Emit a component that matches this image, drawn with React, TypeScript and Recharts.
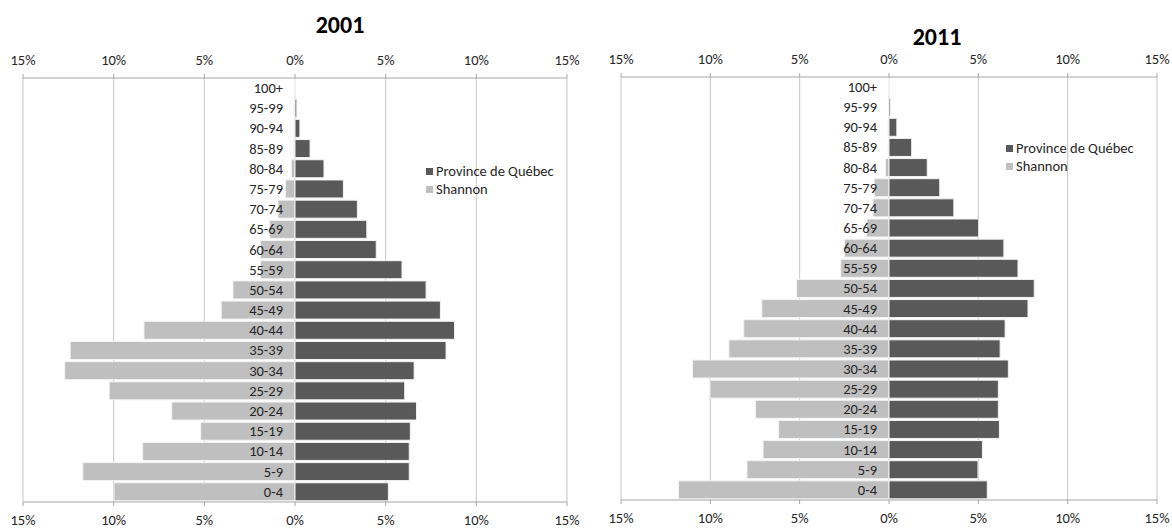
import React from 'react';
import { BarChart, Bar, XAxis, YAxis, CartesianGrid, LabelList } from 'recharts';

const ageGroups = ['100+', '95-99', '90-94', '85-89', '80-84', '75-79', '70-74', '65-69', '60-64', '55-59', '50-54', '45-49', '40-44', '35-39', '30-34', '25-29', '20-24', '15-19', '10-14', '5-9', '0-4'];

const quebec2001 = [0.02, 0.1, 0.27, 0.83, 1.6, 2.67, 3.44, 3.96, 4.48, 5.9, 7.23, 8.02, 8.8, 8.33, 6.57, 6.05, 6.7, 6.36, 6.3, 6.3, 5.15];
const shannon2001 = [0.03, 0.05, 0.05, 0.05, 0.2, 0.52, 0.94, 1.4, 1.9, 1.9, 3.42, 4.07, 8.33, 12.4, 12.7, 10.25, 6.8, 5.2, 8.4, 11.7, 9.98];

const quebec2011 = [0.02, 0.08, 0.44, 1.27, 2.14, 2.84, 3.63, 5.02, 6.43, 7.22, 8.13, 7.78, 6.5, 6.22, 6.68, 6.12, 6.12, 6.18, 5.23, 4.98, 5.5];
const shannon2011 = [0.03, 0.03, 0.05, 0.05, 0.2, 0.83, 0.9, 1.25, 2.49, 2.7, 5.17, 7.12, 8.13, 8.96, 11.0, 10.02, 7.47, 6.18, 7.05, 7.95, 11.78];

const xTicks = [-15, -10, -5, 0, 5, 10, 15];
const seriesNames = ['Province de Québec', 'Shannon'];

const FONT = "Carlito, Calibri, Lato, 'Open Sans', sans-serif";
const DARK = '#595959';
const LIGHT = '#bfbfbf';
const TEXT = '#262626';

const fmt = (v: number) => `${Math.abs(v)}%`;

const renderAgeLabel = (props: any) => {
  const { x, y, width, height, value } = props;
  const xn = Number(x);
  const wn = Number(width);
  const zero = Math.max(xn, xn + wn);
  return (
    <text
      x={zero - 12}
      y={Number(y) + Number(height) / 2}
      textAnchor="end"
      dominantBaseline="central"
      fontSize={14.5}
      fontFamily={FONT}
      fill={TEXT}
    >
      {value}
    </text>
  );
};

const LegendBox = ({ left, top }: { left: number; top: number }) => (
  <div style={{ position: 'absolute', left, top, fontFamily: FONT, fontSize: 14.5, color: TEXT, lineHeight: '17.5px' }}>
    {seriesNames.map((name, i) => (
      <div key={name} style={{ display: 'flex', alignItems: 'center', whiteSpace: 'nowrap' }}>
        <span style={{ display: 'inline-block', width: 7, height: 7, background: i === 0 ? DARK : LIGHT, marginRight: 3 }} />
        {name}
      </div>
    ))}
  </div>
);

type PyramidProps = {
  title: string;
  quebec: number[];
  shannon: number[];
  left: number;
  width: number;
  margin: { top: number; right: number; bottom: number; left: number };
  legendPos: { left: number; top: number };
  titlePos: { x: number; y: number };
};

const Pyramid = ({ title, quebec, shannon, left, width, margin, legendPos, titlePos }: PyramidProps) => {
  const data = ageGroups.map((age, i) => ({ age, quebec: quebec[i], shannon: -shannon[i] }));
  const axisProps = {
    type: 'number' as const,
    domain: [-15, 15],
    ticks: xTicks,
    tickFormatter: fmt,
    tickSize: 4,
    tickMargin: 9,
    stroke: '#a6a6a6',
    allowDataOverflow: true,
    interval: 0 as const,
    tick: { fill: TEXT, fontSize: 14.5, fontFamily: FONT },
  };
  return (
    <div style={{ position: 'absolute', left, top: 0, width, height: 529 }}>
      <BarChart
        width={width}
        height={529}
        data={data}
        layout="vertical"
        stackOffset="sign"
        margin={margin}
        barCategoryGap={1}
      >
        <CartesianGrid horizontal={false} vertical stroke="#c4c4c4" xAxisId="bottom" />
        <XAxis xAxisId="top" orientation="top" height={30} {...axisProps} />
        <XAxis xAxisId="bottom" orientation="bottom" height={20} {...axisProps} />
        <YAxis type="category" dataKey="age" hide />
        <Bar dataKey="shannon" name={seriesNames[1]} stackId="a" xAxisId="bottom" fill={LIGHT} stroke="#f4f4f4" strokeWidth={1} isAnimationActive={false}>
          <LabelList dataKey="age" content={renderAgeLabel} />
        </Bar>
        <Bar dataKey="quebec" name={seriesNames[0]} stackId="a" xAxisId="bottom" fill={DARK} stroke="#f4f4f4" strokeWidth={1} isAnimationActive={false} />
      </BarChart>
      <LegendBox left={legendPos.left} top={legendPos.top} />
      <div
        style={{
          position: 'absolute',
          left: titlePos.x - 60,
          top: titlePos.y - 15,
          width: 120,
          textAlign: 'center',
          fontFamily: FONT,
          fontWeight: 700,
          fontSize: 24,
          lineHeight: '30px',
          color: '#000',
        }}
      >
        {title}
      </div>
    </div>
  );
};

export default function App() {
  return (
    <div style={{ position: 'absolute', left: 0, top: 0, width: 1172, height: 529, background: '#fff' }}>
      <Pyramid
        title="2001"
        quebec={quebec2001}
        shannon={shannon2001}
        left={0}
        width={590}
        margin={{ top: 48, right: 23, bottom: 7, left: 23 }}
        legendPos={{ left: 426, top: 163 }}
        titlePos={{ x: 340, y: 25 }}
      />
      <Pyramid
        title="2011"
        quebec={quebec2011}
        shannon={shannon2011}
        left={590}
        width={582}
        margin={{ top: 47, right: 15, bottom: 9, left: 31 }}
        legendPos={{ left: 416, top: 140 }}
        titlePos={{ x: 347, y: 37 }}
      />
    </div>
  );
}
